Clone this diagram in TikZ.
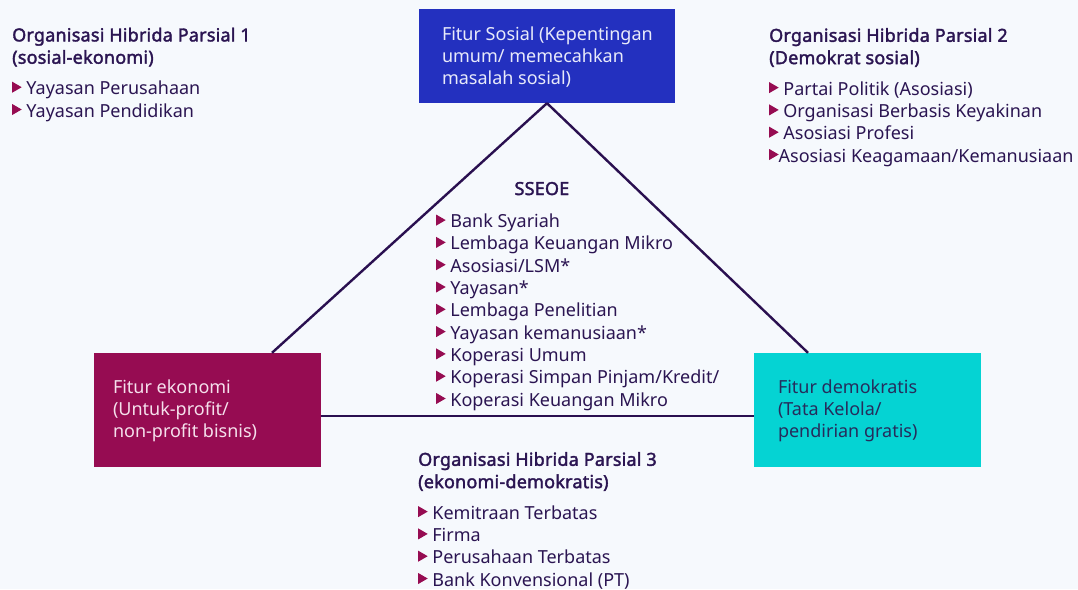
\documentclass[tikz,border=0pt]{standalone}
\usepackage{fontspec}
\setmainfont{Noto Sans}[BoldFont={Noto Sans},BoldFeatures={FakeBold=2,LetterSpace=1.2}]
\usepackage{tikz}
\usetikzlibrary{positioning}
\definecolor{bgc}{RGB}{246,249,253}
\definecolor{sosialfill}{RGB}{35,48,191}
\definecolor{ekonomifill}{RGB}{150,12,82}
\definecolor{demokfill}{RGB}{5,211,211}
\definecolor{inkc}{RGB}{43,21,82}
\definecolor{linec}{RGB}{42,16,80}
\definecolor{bulletc}{RGB}{150,12,82}
\newcommand{\tri}{\tikz[baseline=0pt]\fill[bulletc] (0,2pt) -- (0,13pt) -- (9.5pt,7.5pt) -- cycle;}
\tikzset{
  featbox/.style={rectangle,minimum width=227pt,minimum height=114pt,inner sep=0pt},
  feattxt/.style={align=left,inner sep=0pt,anchor=west,font=\fontsize{18}{22.3}\selectfont},
  listtxt/.style={align=left,inner sep=0pt,anchor=base west,text=inkc,font=\fontsize{18}{22.3}\selectfont},
  sisi/.style={draw=linec,line width=2.4pt},
}

\begin{document}
\begin{tikzpicture}[x=1pt,y=-1pt]
  \fill[bgc] (0,0) rectangle (1078,589);
  \useasboundingbox (0,0) rectangle (1078,589);
  % three features
  \node[featbox,fill=sosialfill,minimum width=256pt,minimum height=94pt] (sosial) at (547,56) {};
  \node[featbox,fill=ekonomifill] (ekonomi) at (207.5,410) {};
  \node[featbox,fill=demokfill] (demok) at (867.5,410) {};
  % triangle
  \draw[sisi] (sosial.south) -- ([xshift=64.5pt]ekonomi.north);
  \draw[sisi] (sosial.south) -- ([xshift=-59.5pt]demok.north);
  \draw[sisi] ([yshift=-6pt]ekonomi.east) -- ([yshift=-6pt]demok.west);
  \node[feattxt,text={rgb,255:red,232;green,234;blue,250}] (sosialtxt) at ([xshift=23pt,yshift=-1pt]sosial.west)
    {Fitur Sosial (Kepentingan\\umum/ memecahkan\\masalah sosial)};
  \node[feattxt,text={rgb,255:red,245;green,224;blue,236}] (ekonomitxt) at ([xshift=19pt,yshift=-1pt]ekonomi.west)
    {Fitur ekonomi\\(Untuk-profit/\\non-profit bisnis)};
  \node[feattxt,text={rgb,255:red,38;green,44;blue,92}] (demoktxt) at ([xshift=24pt,yshift=-1pt]demok.west)
    {Fitur demokratis\\(Tata Kelola/\\pendirian gratis)};
  % hybrid groups (anchored at the baseline of their last line)
  \node[listtxt] (grup1) at (12,117)
    {\textbf{Organisasi Hibrida Parsial 1}\\\textbf{(sosial-ekonomi)}\\[8.7pt]
     \tri\ Yayasan Perusahaan\\\tri\ Yayasan Pendidikan};
  \node[listtxt] (grup2) at (769,162)
    {\textbf{Organisasi Hibrida Parsial 2}\\\textbf{(Demokrat sosial)}\\[8.7pt]
     \tri\ Partai Politik (Asosiasi)\\\tri\ Organisasi Berbasis Keyakinan\\
     \tri\ Asosiasi Profesi\\\tri Asosiasi Keagamaan/Kemanusiaan};
  \node[listtxt,anchor=base] (sseoe) at (542,195) {\textbf{SSEOE}};
  \node[listtxt] (sseoelist) at (436,406)
    {\tri\ Bank Syariah\\\tri\ Lembaga Keuangan Mikro\\\tri\ Asosiasi/LSM*\\
     \tri\ Yayasan*\\\tri\ Lembaga Penelitian\\\tri\ Yayasan kemanusiaan*\\
     \tri\ Koperasi Umum\\\tri\ Koperasi Simpan Pinjam/Kredit/\\\tri\ Koperasi Keuangan Mikro};
  \node[listtxt] (grup3) at (418,586)
    {\textbf{Organisasi Hibrida Parsial 3}\\\textbf{(ekonomi-demokratis)}\\[8.7pt]
     \tri\ Kemitraan Terbatas\\\tri\ Firma\\\tri\ Perusahaan Terbatas\\\tri\ Bank Konvensional (PT)};
\end{tikzpicture}
\end{document}
